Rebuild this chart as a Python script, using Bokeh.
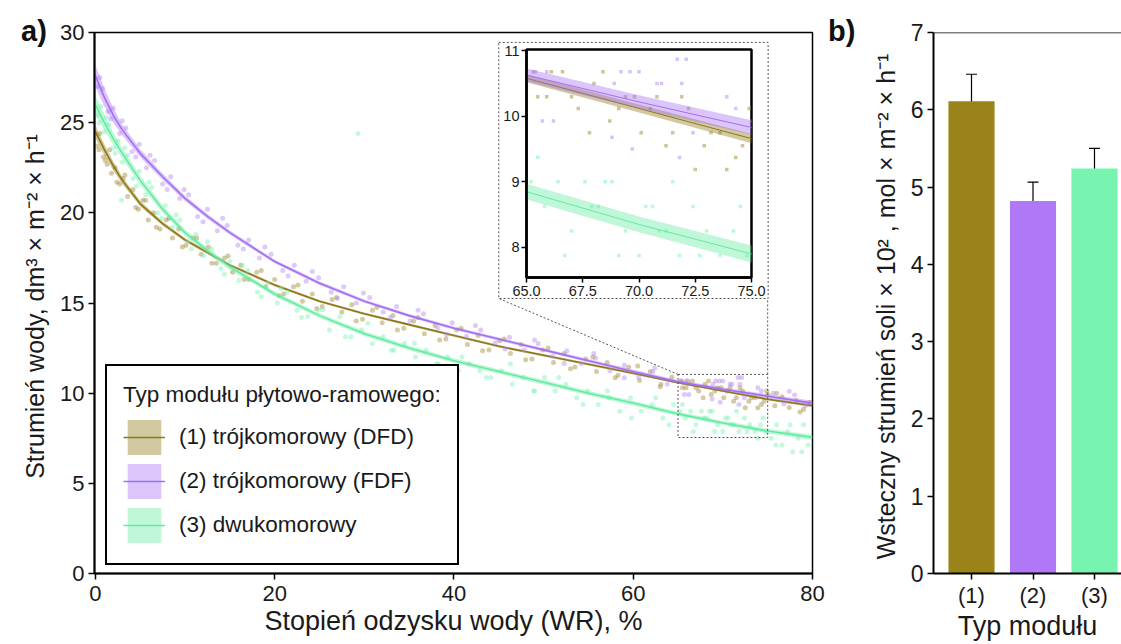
from bokeh.plotting import figure
from bokeh.models import (Range1d, FixedTicker, Legend, LegendItem, Span, Div,
                          Whisker, ColumnDataSource, GridBox, TeeHead, PrintfTickFormatter)
from bokeh.embed import file_html
from bokeh.resources import INLINE

FONT = "Liberation Sans"

# ---------------- data: panel a ----------------
series_names = ["(1) trójkomorowy (DFD)", "(2) trójkomorowy (FDF)", "(3) dwukomorowy"]
line_colors = ["#8E7714", "#A46EF2", "#62EBA0"]
point_colors = ["#A08A35", "#B48AF5", "#7CF2B4"]

x_fit = [0, 1, 2, 3, 5, 7.5, 10, 12.5, 15, 20, 25, 30, 35, 40, 45, 50, 55, 60, 65, 70, 75, 80]
fit_dfd = [24.5, 23.5, 22.6, 21.8, 20.5, 19.4, 18.5, 17.8, 17.1, 16.0, 15.1, 14.4, 13.8, 13.2,
           12.6, 12.1, 11.6, 11.1, 10.58, 10.12, 9.66, 9.3]
fit_fdf = [27.6, 26.4, 25.4, 24.6, 23.3, 22.0, 20.8, 19.8, 18.9, 17.3, 16.1, 15.1, 14.3, 13.6,
           13.0, 12.4, 11.8, 11.2, 10.63, 10.22, 9.83, 9.45]
fit_dwu = [26.0, 25.0, 24.1, 23.3, 21.8, 20.2, 18.9, 17.9, 17.0, 15.5, 14.3, 13.3, 12.5, 11.8,
           11.2, 10.6, 10.0, 9.45, 8.85, 8.35, 7.9, 7.55]
ci_dfd = [0.35, 0.3, 0.25, 0.2, 0.15, 0.12, 0.1, 0.1, 0.08, 0.08, 0.07, 0.07, 0.07, 0.07,
          0.07, 0.07, 0.07, 0.07, 0.06, 0.06, 0.07, 0.08]
ci_fdf = [0.6, 0.5, 0.4, 0.3, 0.22, 0.18, 0.15, 0.13, 0.12, 0.1, 0.1, 0.09, 0.09, 0.09,
          0.09, 0.09, 0.09, 0.1, 0.1, 0.1, 0.11, 0.13]
ci_dwu = [0.5, 0.42, 0.35, 0.3, 0.25, 0.2, 0.18, 0.16, 0.15, 0.14, 0.13, 0.13, 0.13, 0.13,
          0.13, 0.13, 0.13, 0.13, 0.12, 0.12, 0.13, 0.15]

x_dfd = [0.2, 0.5, 0.9, 1.3, 1.8, 2.2, 2.7, 3.1, 3.6, 4.2, 4.8, 5.3, 5.9, 6.5, 7.2, 7.9, 8.6, 9.3,
         10.1, 10.9, 11.8, 12.6, 13.5, 14.4, 15.3, 16.2, 17.1, 18.0, 19.0, 20.0, 21.0, 22.1, 23.1,
         24.2, 25.3, 26.4, 27.5, 28.6, 29.8, 30.9, 32.0, 33.2, 34.4, 35.5, 36.7, 37.9, 39.1, 40.3,
         41.5, 42.7, 43.9, 45.1, 46.3, 47.5, 48.7, 49.9, 51.1, 52.3, 53.5, 54.7, 55.9, 57.1, 58.3,
         59.5, 60.7, 61.9, 63.1, 64.3, 65.3, 65.9, 66.6, 67.3, 68.0, 68.7, 69.4, 70.1, 70.8, 71.5,
         72.2, 72.9, 73.6, 74.3, 75.0, 75.8, 76.6, 77.4, 78.2, 79.0, 79.7,
         65.5, 66.1, 67.0, 67.8, 68.4, 69.1, 69.8, 70.5, 71.2, 71.9, 72.5, 73.2, 73.9, 74.6, 74.9,
         0.4, 1.1, 1.6, 2.4, 3.3, 4.5, 5.6, 6.8, 8.2, 9.7, 11.3, 13.0, 14.8, 16.6, 18.5, 20.5,
         22.6, 24.7, 26.9, 29.1, 31.4, 33.7, 36.0, 38.4, 40.8, 43.2, 45.6, 48.0, 50.5, 53.0,
         55.5, 58.0, 60.5, 63.0, 76.0, 78.6]
y_dfd = [23.7, 24.4, 23.1, 22.7, 22.2, 22.5, 21.6, 21.9, 20.9, 21.3, 20.2, 20.7, 19.6, 20.0, 19.1,
         19.6, 18.6, 19.1, 18.2, 18.6, 17.7, 18.1, 17.2, 17.5, 16.7, 17.1, 16.3, 16.7, 15.9, 16.3,
         15.5, 15.9, 15.1, 15.5, 14.8, 15.2, 14.5, 14.9, 14.1, 14.6, 13.9, 14.3, 13.6, 14.0, 13.3,
         13.75, 13.0, 13.5, 12.7, 13.2, 12.4, 12.9, 12.2, 12.7, 11.9, 12.4, 11.7, 12.2, 11.45, 11.9,
         11.2, 11.7, 11.0, 11.45, 10.7, 11.2, 10.5, 10.9, 10.68, 10.3, 10.68, 10.12, 10.5, 9.93,
         10.3, 9.75, 10.3, 9.75, 10.12, 9.55, 9.75, 9.37, 9.93, 9.3, 9.8, 9.2, 9.6, 9.1, 9.5,
         10.3, 10.68, 10.3, 9.75, 10.68, 10.12, 10.3, 10.12, 9.55, 10.3, 9.19, 9.75, 9.19, 9.55, 10.12,
         23.5, 22.9, 23.5, 21.7, 22.1, 20.3, 20.7, 19.2, 19.7, 18.1, 18.6, 17.2, 17.6, 16.3, 16.8,
         15.4, 16.0, 14.7, 15.3, 14.0, 14.75, 13.5, 14.2, 12.95, 13.6, 12.35, 13.0, 11.85, 12.5,
         11.35, 12.0, 10.85, 11.5, 10.35, 10.0, 8.95]

x_fdf = [0.3, 0.8, 1.4, 2.0, 2.7, 3.4, 4.1, 4.9, 5.7, 6.6, 7.5, 8.4, 9.4, 10.4, 11.4, 12.5, 13.6,
         14.7, 15.9, 17.1, 18.3, 19.6, 20.9, 22.2, 23.5, 24.9, 26.3, 27.7, 29.1, 30.6, 32.1, 33.6,
         35.1, 36.6, 38.2, 39.8, 41.4, 43.0, 44.6, 46.2, 47.8, 49.4, 51.0, 52.6, 54.2, 55.8, 57.4,
         59.0, 60.6, 62.2, 63.8, 65.4, 65.7, 65.9, 66.2, 68.8, 68.9, 69.2, 69.6, 69.7, 70.0, 70.8,
         71.0, 71.7, 71.8, 71.9, 72.1, 72.4, 73.9, 74.3, 75.6, 76.8, 78.0, 79.2,
         0.5, 1.7, 3.0, 4.5, 6.1, 8.0, 9.9, 12.0, 14.2, 16.5, 18.9, 21.5, 24.2, 27.0, 29.9, 32.9,
         36.0, 39.2, 42.4, 45.7, 49.0, 52.3, 55.6, 59.0, 62.4, 77.4]
y_fdf = [27.0, 26.9, 25.6, 25.8, 24.4, 24.7, 23.4, 23.8, 22.5, 22.9, 21.6, 22.0, 20.8, 21.0, 19.8,
         20.2, 19.0, 19.3, 18.2, 18.5, 17.5, 17.7, 16.8, 17.1, 16.2, 16.4, 15.6, 15.9, 15.0, 15.3,
         14.5, 14.8, 14.0, 14.4, 13.6, 13.9, 13.15, 13.5, 12.8, 13.1, 12.4, 12.75, 12.05, 12.35,
         11.65, 11.95, 11.25, 11.55, 10.9, 11.2, 10.5, 10.68, 9.93, 10.68, 9.93, 9.68, 10.5, 10.68,
         10.68, 9.5, 10.68, 10.5, 10.5, 10.87, 9.37, 10.5, 10.87, 9.75, 10.3, 10.12, 10.0, 9.4,
         9.9, 9.3,
         27.5, 25.2, 25.1, 23.1, 23.2, 21.3, 21.3, 19.5, 19.7, 18.0, 18.1, 16.5, 16.75, 15.25,
         15.55, 14.2, 14.6, 13.25, 13.75, 12.45, 12.95, 11.65, 12.2, 10.85, 11.4, 10.1]

x_dwu = [0.2, 0.6, 1.0, 1.5, 2.0, 2.5, 2.9, 3.0, 3.6, 4.2, 4.9, 5.6, 6.3, 7.0, 7.8, 8.6, 9.4, 10.3,
         11.2, 12.1, 13.0, 14.0, 15.0, 16.0, 17.0, 18.1, 19.2, 20.3, 21.4, 22.5, 23.7, 24.9, 26.1,
         27.3, 28.5, 29.3, 29.7, 30.9, 32.1, 33.3, 34.5, 35.7, 36.9, 38.1, 39.3, 40.5, 41.7, 42.9,
         44.1, 45.3, 46.5, 47.7, 48.9, 50.1, 51.3, 52.5, 53.7, 54.9, 56.1, 57.3, 58.5, 59.7, 60.9,
         62.1, 63.3, 64.5, 65.2, 65.8, 66.4, 67.0, 67.6, 68.2, 68.8, 69.4, 70.0, 70.6, 71.2, 71.8,
         72.4, 73.0, 73.6, 74.2, 74.8, 75.4, 76.0, 76.6, 77.2, 77.8, 78.4, 79.0,
         65.5, 66.7, 67.9, 69.1, 70.3, 71.5, 72.7, 73.9, 74.5, 68.5, 70.9,
         0.4, 1.2, 2.2, 3.3, 4.6, 6.0, 7.4, 9.0, 10.7, 12.5, 14.4, 16.4, 18.5, 20.7, 23.0, 25.4,
         27.9, 30.4, 33.0, 35.6, 38.2, 40.9, 43.6, 46.3, 49.0, 51.7, 54.4, 57.1, 59.8, 62.5,
         64.0, 75.9, 77.5, 78.8, 79.5]
y_dwu = [25.4, 25.9, 24.5, 24.9, 23.6, 24.0, 20.7, 22.8, 23.2, 21.9, 22.3, 21.0, 21.4, 20.0, 20.4,
         19.2, 19.6, 18.4, 18.8, 17.6, 18.0, 16.9, 17.3, 16.25, 16.8, 15.6, 16.1, 15.0, 15.6, 14.6,
         14.25, 14.6, 13.5, 14.25, 13.125, 24.4, 13.5, 12.75, 13.125, 12.375, 12.75, 12.0, 12.375,
         11.625, 12.0, 11.25, 11.625, 11.25, 10.875, 11.25, 10.5, 10.875, 10.125, 10.875, 10.125,
         10.5, 9.75, 10.125, 9.375, 9.75, 9.0, 9.75, 9.0, 9.375, 8.625, 9.375, 9.0, 8.625, 9.0,
         8.25, 9.0, 8.625, 9.0, 8.25, 7.875, 8.625, 8.25, 7.875, 8.625, 8.25, 7.875, 8.25, 7.875,
         7.5, 8.25, 7.125, 7.875, 6.75, 7.5, 8.25,
         9.375, 7.875, 8.625, 7.875, 8.625, 9.0, 7.875, 7.5, 8.625, 9.0, 8.25,
         25.0, 25.3, 23.3, 23.6, 21.5, 21.7, 19.7, 19.9, 18.0, 18.4, 16.6, 17.1, 15.35, 15.8, 14.2,
         14.625, 13.125, 13.875, 12.375, 12.75, 11.625, 12.0, 10.875, 11.625, 10.125, 10.875,
         9.375, 10.125, 8.625, 9.75, 8.25, 7.125, 8.25, 6.75, 7.125]

fits = [fit_dfd, fit_fdf, fit_dwu]
cis = [ci_dfd, ci_fdf, ci_dwu]
pts_x = [x_dfd, x_fdf, x_dwu]
pts_y = [y_dfd, y_fdf, y_dwu]

# ---------------- data: panel b ----------------
bar_cats = ["(1)", "(2)", "(3)"]
bar_vals = [6.11, 4.82, 5.24]
bar_errs = [0.35, 0.245, 0.26]
bar_colors = ["#9A8419", "#B077F7", "#77F5B0"]


def style_axes(p, tick_size, tick_out=6, line_w=2):
    for ax in p.axis:
        ax.axis_line_color = "black"
        ax.axis_line_width = line_w
        ax.major_tick_line_color = "black"
        ax.major_tick_line_width = 1.5
        ax.major_tick_out = tick_out
        ax.major_tick_in = 0
        ax.minor_tick_line_color = None
        ax.major_label_text_font = FONT
        ax.major_label_text_font_size = tick_size
        ax.major_label_text_color = "#1a1a1a"
        ax.axis_label_text_font = FONT
        ax.axis_label_text_font_style = "normal"
        ax.axis_label_text_color = "#1a1a1a"
    p.xgrid.visible = False
    p.ygrid.visible = False


# ---------------- panel a ----------------
pa = figure(width=826, height=644, x_range=Range1d(-0.1, 80), y_range=Range1d(0, 30),
            output_backend="svg", toolbar_location=None,
            min_border_left=94, min_border_right=14, min_border_top=32, min_border_bottom=71)
pa.outline_line_color = "black"
pa.outline_line_width = 1.5
pa.xaxis.ticker = FixedTicker(ticks=[0, 20, 40, 60, 80])
pa.yaxis.ticker = FixedTicker(ticks=[0, 5, 10, 15, 20, 25, 30])
pa.xaxis.axis_label = "Stopień odzysku wody (WR), %"
pa.yaxis.axis_label = "Strumień wody,  dm³ × m⁻² × h⁻¹"
style_axes(pa, "22px")
pa.xaxis.axis_label_text_font_size = "27px"
pa.yaxis.axis_label_text_font_size = "25px"
pa.xaxis.major_label_standoff = 6
pa.xaxis.axis_label_standoff = 2
pa.yaxis.major_label_standoff = 4
pa.yaxis.axis_label_standoff = 8

legend_items = []
for i in range(3):
    lo = [f - c for f, c in zip(fits[i], cis[i])]
    hi = [f + c for f, c in zip(fits[i], cis[i])]
    pa.scatter(pts_x[i], pts_y[i], size=5, fill_color=point_colors[i], fill_alpha=0.45,
               line_color=None)
    br = pa.varea(x=x_fit, y1=lo, y2=hi, fill_color=line_colors[i], fill_alpha=0.4)
    lr = pa.line(x_fit, fits[i], line_color=line_colors[i], line_width=1.6)
    legend_items.append(LegendItem(label=series_names[i], renderers=[br, lr]))

# zoom rectangle, connectors and inset frame
pa.quad(left=[65], right=[75], bottom=[7.54], top=[11.04], fill_color=None,
        line_color="#555555", line_width=1, line_dash="2 2")
pa.segment(x0=[65, 75], y0=[11.04, 11.04], x1=[45.0, 75.0], y1=[15.25, 15.25],
           line_color="#555555", line_width=1, line_dash="2 2")
pa.quad(left=[45.0], right=[75.05], bottom=[15.25], top=[29.45], fill_color="white",
        line_color="#555555", line_width=1, line_dash="2 2")

legend = Legend(items=legend_items, location=(11, 8), title="Typ modułu płytowo-ramowego:")
legend.title_text_font = FONT
legend.title_text_font_size = "22.5px"
legend.title_text_font_style = "normal"
legend.title_text_color = "#1a1a1a"
legend.title_standoff = 7
legend.label_text_font = FONT
legend.label_text_font_size = "22.5px"
legend.label_text_color = "#1a1a1a"
legend.glyph_width = 42
legend.glyph_height = 44
legend.label_height = 44
legend.label_standoff = 14
legend.spacing = 0
legend.padding = 16
legend.margin = 0
legend.border_line_color = "black"
legend.border_line_alpha = 1
legend.border_line_width = 2
legend.background_fill_alpha = 1
pa.add_layout(legend)

# ---------------- inset ----------------
pin = figure(width=290, height=265, x_range=Range1d(65, 75), y_range=Range1d(7.54, 11.02),
             output_backend="svg", toolbar_location=None,
             min_border_left=36, min_border_right=29, min_border_top=9, min_border_bottom=28)
pin.border_fill_alpha = 0
pin.background_fill_color = "white"
pin.outline_line_color = "black"
pin.outline_line_width = 2.5
pin.xaxis.ticker = FixedTicker(ticks=[65, 67.5, 70, 72.5, 75])
pin.xaxis.formatter = PrintfTickFormatter(format="%.1f")
pin.yaxis.ticker = FixedTicker(ticks=[8, 9, 10, 11])
style_axes(pin, "14.5px", tick_out=5, line_w=2.5)
pin.xaxis.major_label_standoff = 3
pin.yaxis.major_label_standoff = 2
for i in range(3):
    lo = [f - c for f, c in zip(fits[i], cis[i])]
    hi = [f + c for f, c in zip(fits[i], cis[i])]
    pin.scatter(pts_x[i], pts_y[i], marker="square", size=3.5, fill_color=point_colors[i],
                fill_alpha=0.5, line_color=None)
    pin.varea(x=x_fit, y1=lo, y2=hi, fill_color=line_colors[i], fill_alpha=0.4)
    pin.line(x_fit, fits[i], line_color=line_colors[i], line_width=1)

# ---------------- panel b ----------------
bar_x = [i + 1 for i in range(len(bar_cats))]
src = ColumnDataSource(dict(x=bar_x, top=bar_vals, color=bar_colors,
                            upper=[v + e for v, e in zip(bar_vals, bar_errs)],
                            lower=[v - e for v, e in zip(bar_vals, bar_errs)]))
pb = figure(width=295, height=644, x_range=Range1d(0.382, 3.439), y_range=Range1d(0, 7),
            output_backend="svg", toolbar_location=None,
            min_border_left=107, min_border_right=0, min_border_top=32, min_border_bottom=65)
pb.outline_line_color = None
pb.vbar(x="x", top="top", width=0.75, fill_color="color", line_color=None, source=src)
pb.add_layout(Whisker(source=src, base="x", upper="upper", lower="lower",
                      line_color="black", line_width=1.2,
                      upper_head=TeeHead(size=11, line_color="black", line_width=1.2),
                      lower_head=TeeHead(size=11, line_color="black", line_width=1.2)))
pb.add_layout(Span(location=7, dimension="width", line_color="black", line_width=1.5))
pb.xaxis.ticker = FixedTicker(ticks=bar_x)
pb.xaxis.major_label_overrides = {x: c for x, c in zip(bar_x, bar_cats)}
pb.yaxis.ticker = FixedTicker(ticks=list(range(0, 8)))
pb.xaxis.axis_label = "Typ modułu"
pb.yaxis.axis_label = "Wsteczny strumień soli  × 10² , mol × m⁻² × h⁻¹"
style_axes(pb, "22px")
pb.yaxis.major_label_text_font_size = "23px"
pb.xaxis.axis_label_text_font_size = "27px"
pb.yaxis.axis_label_text_font_size = "25px"
pb.xaxis.major_label_standoff = 3
pb.xaxis.axis_label_standoff = 0
pb.yaxis.major_label_standoff = 4
pb.yaxis.axis_label_standoff = 8

# panel letters
lab_style = {"font-family": FONT, "font-size": "29px", "font-weight": "bold",
             "color": "#111111", "line-height": "29px"}
div_a = Div(text="a)", width=60, height=40, margin=0,
            styles=dict(lab_style, **{"padding-left": "21px", "padding-top": "17px"}))
div_b = Div(text="b)", width=60, height=40, margin=0,
            styles=dict(lab_style, **{"padding-left": "48px", "padding-top": "17px"}))

grid = GridBox(children=[(pa, 0, 0, 3, 3), (pin, 1, 1, 1, 1), (pb, 0, 3, 3, 1),
                         (div_a, 0, 0, 1, 1), (div_b, 0, 2, 1, 2)],
               rows=["40px", "265px", "339px"], cols=["490px", "290px", "46px", "295px"],
               spacing=0)

open("out.html", "w").write(file_html(grid, INLINE))
